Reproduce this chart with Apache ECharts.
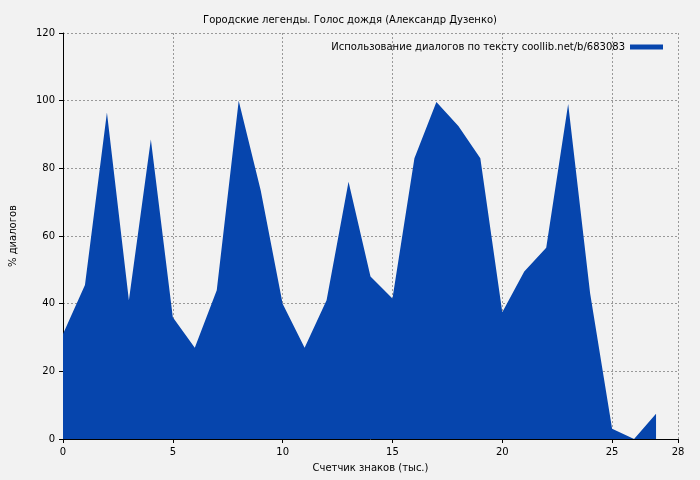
<!DOCTYPE html>
<html>
<head>
<meta charset="utf-8">
<script src="https://cdn.jsdelivr.net/npm/echarts@6/dist/echarts.min.js"></script>
<style>
  html, body { margin: 0; padding: 0; background: #f2f2f2; }
  #chart { width: 700px; height: 480px; }
</style>
</head>
<body>
<div id="chart"></div>
<script>
// Chart data
const xValues = [0, 1, 2, 3, 4, 5, 6, 7, 8, 9, 10, 11, 12, 13, 14, 15, 16, 17, 18, 19, 20, 21, 22, 23, 24, 25, 26, 27];
const dialogShare = [31, 45.5, 96.5, 41, 88.5, 36, 27, 44, 100, 73.5, 40, 27, 41, 76, 48, 41.5, 83, 99.6, 92.5, 83, 37.5, 49.5, 56.5, 99, 43, 3, 0, 7.5];
const seriesName = 'Использование диалогов по тексту coollib.net/b/683083';

const chart = echarts.init(document.getElementById('chart'));

const gridLine = { show: true, lineStyle: { color: '#999', type: [2, 2], width: 1 } };

chart.setOption({
  backgroundColor: '#f2f2f2',
  animation: false,
  textStyle: { fontFamily: 'DejaVu Sans' },
  title: {
    text: 'Городские легенды. Голос дождя (Александр Дузенко)',
    left: 'center',
    top: 10,
    textStyle: { fontSize: 10, fontWeight: 'normal', color: '#000' }
  },
  legend: {
    data: [seriesName],
    right: 32,
    top: 37,
    icon: 'rect',
    itemWidth: 33,
    itemHeight: 5,
    align: 'right',
    textStyle: { fontSize: 10, color: '#000' }
  },
  grid: { left: 61, right: 22, top: 33, bottom: 41 },
  xAxis: {
    type: 'value',
    min: 0,
    max: 28,
    interval: 5,
    name: 'Счетчик знаков (тыс.)',
    nameLocation: 'middle',
    nameGap: 24,
    nameTextStyle: { fontSize: 10, color: '#000' },
    axisLine: { lineStyle: { color: '#000' } },
    axisTick: { inside: false, length: 4, lineStyle: { color: '#000' } },
    axisLabel: { fontSize: 10, color: '#000' },
    splitLine: gridLine
  },
  yAxis: {
    type: 'value',
    min: 0,
    max: 120,
    interval: 20,
    name: '% диалогов',
    nameLocation: 'middle',
    nameGap: 45,
    nameTextStyle: { fontSize: 10, color: '#000' },
    axisLine: { show: true, lineStyle: { color: '#000' } },
    axisTick: { show: true, length: 4, lineStyle: { color: '#000' } },
    axisLabel: { fontSize: 10, color: '#000' },
    splitLine: gridLine
  },
  series: [{
    name: seriesName,
    type: 'line',
    data: xValues.map((x, i) => [x, dialogShare[i]]),
    symbol: 'none',
    lineStyle: { width: 0, color: '#0645ad' },
    itemStyle: { color: '#0645ad' },
    areaStyle: { color: '#0645ad', opacity: 1 }
  }]
});
</script>
</body>
</html>
